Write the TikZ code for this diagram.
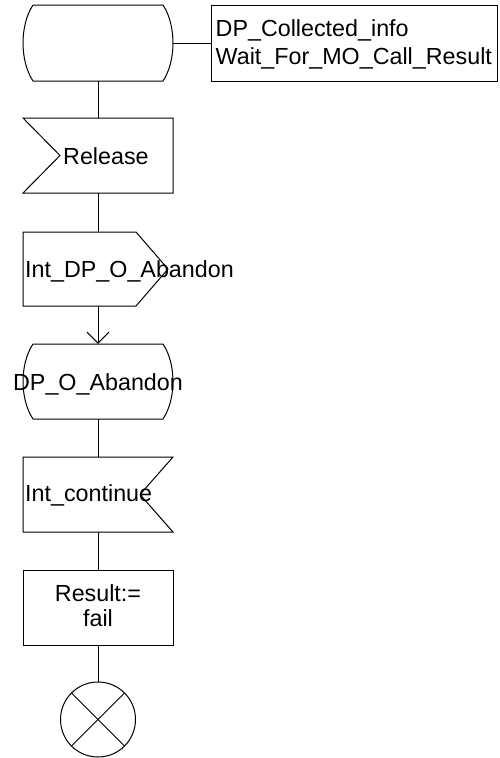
\documentclass[tikz,border=0pt]{standalone}
\usepackage{fontspec}
\setmainfont{Liberation Sans}
\usetikzlibrary{arrows.meta}
\tikzset{
  ln/.style={line width=1pt, draw=black},
  lbl/.style={font=\fontsize{23.3}{28}\selectfont, inner sep=0pt},
  frame/.style={draw=none, minimum width=150pt, minimum height=75pt, inner sep=0pt},
  barb/.style={-{Straight Barb[length=11pt,width=22pt,line width=1pt]}},
}
\begin{document}
\begin{tikzpicture}[x=1pt,y=-1pt]
\useasboundingbox (0,0) rectangle (500,758);
% frames (geometry holders)
\node[frame, minimum height=76pt] (s1) at (98,43) {};
\node[ln, minimum width=286pt, minimum height=76pt, inner sep=0pt] (info) at (354,43) {};
\node[frame] (rel) at (98,155.5) {};
\node[frame, minimum height=74pt] (out) at (98,269) {};
\node[frame] (s2) at (98,381.5) {};
\node[frame] (cont) at (98,494.5) {};
\node[ln, minimum width=150pt, minimum height=75pt, inner sep=0pt] (task) at (98,607.5) {};
\node[ln, circle, minimum size=75pt, inner sep=0pt] (stop) at (98,719.5) {};
% outlines
\draw[ln] (33,5) -- (163,5) .. controls (176.3,25) and (176.3,61) .. (163,81)
  -- (33,81) .. controls (19.7,61) and (19.7,25) .. (33,5);
\draw[ln] (23,118) -- (173,118) -- (173,193) -- (23,193) -- (60,155.5) -- cycle;
\draw[ln] (23,232) -- (136,232) -- (168,269) -- (136,306) -- (23,306) -- cycle;
\draw[ln] (33,344) -- (163,344) .. controls (176.3,364) and (176.3,399) .. (163,419)
  -- (33,419) .. controls (19.7,399) and (19.7,364) .. (33,344);
\draw[ln] (173,457) -- (23,457) -- (23,532) -- (173,532) -- (140,494.5) -- cycle;
\draw[ln] (stop.north west) -- (stop.south east);
\draw[ln] (stop.north east) -- (stop.south west);
% texts
\node[lbl, anchor=base west] (info1) at (215.5,36) {DP\_Collected\_info};
\node[lbl, anchor=base west] (info2) at (215.5,64) {Wait\_For\_MO\_Call\_Result};
\node[lbl, anchor=base west] (reltxt) at (63,164.3) {Release};
\node[lbl, anchor=base west] (outtxt) at (25,277.3) {Int\_DP\_O\_Abandon};
\node[lbl, anchor=base] (s2txt) at (98,390.7) {DP\_O\_Abandon};
\node[lbl, anchor=base west] (conttxt) at (25,501.7) {Int\_continue};
\node[lbl, anchor=base] (task1) at (98,601.7) {Result:=};
\node[lbl, anchor=base] (task2) at (98,626.7) {fail};
% connectors
\draw[ln] (s1.east) -- (info.west);
\draw[ln] (s1.south) -- (rel.north);
\draw[ln] (rel.south) -- (out.north);
\draw[ln, barb] (out.south) -- (s2.north);
\draw[ln] (s2.south) -- (cont.north);
\draw[ln] (cont.south) -- (task.north);
\draw[ln] (task.south) -- (stop.north);
\end{tikzpicture}
\end{document}
